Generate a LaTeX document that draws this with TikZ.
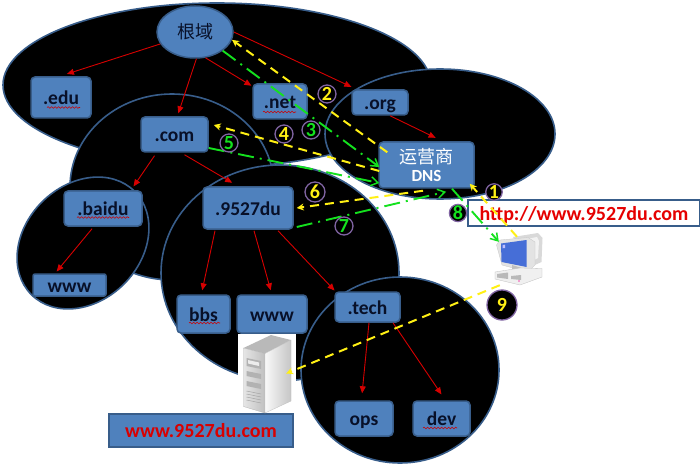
\documentclass[tikz,border=0pt]{standalone}
\usepackage{fontspec}
\setmainfont{Carlito}
\newfontfamily\cjk{Noto Sans CJK SC}
\usetikzlibrary{arrows.meta,shapes.geometric,decorations.pathmorphing}
\definecolor{bluefill}{RGB}{79,129,189}
\definecolor{blueline}{RGB}{56,93,138}
\definecolor{darktxt}{RGB}{8,16,40}
\definecolor{redline}{RGB}{215,0,0}
\definecolor{greenline}{RGB}{20,225,30}
\definecolor{yellowline}{RGB}{255,240,20}
\definecolor{purp}{RGB}{128,100,162}
\definecolor{screenblue}{RGB}{70,110,215}
\tikzset{
  zone/.style={draw=blueline,line width=1.6pt,fill=black,shape=ellipse,inner sep=0pt},
  box/.style={draw=blueline,line width=1.5pt,fill=bluefill,rounded corners=4pt,inner sep=0pt,
     text=darktxt,font=\fontsize{19.5}{20}\selectfont\bfseries},
  label/.style={box,text height=16pt,text depth=2pt},
  redarrow/.style={draw=redline,line width=.9pt,-{Triangle[length=7pt,width=6pt]},shorten >=1pt},
  yellowarrow/.style={draw=yellowline,line width=2pt,dash pattern=on 9pt off 6pt,
     -{Stealth[length=7pt,width=7pt]}},
  greenarrow/.style={draw=greenline,line width=1.9pt,dash pattern=on 16pt off 6pt on 2pt off 6pt,
     -{Straight Barb[length=7pt,width=9pt,line width=1.5pt]}},
  badge/.style={shape=circle,draw=purp,line width=1.3pt,fill=black,inner sep=0pt,
     font=\fontsize{20}{20}\selectfont\bfseries},
  squig/.style={draw=red!80!black,line width=.6pt,decorate,
     decoration={snake,segment length=3.5pt,amplitude=.8pt}},
  every node/.append style={align=center}
}
\begin{document}
\begin{tikzpicture}[x=1pt,y=-1pt]
\useasboundingbox (0,0) rectangle (700,470);
\fill[white] (0,0) rectangle (700,470);
% zones
\node[zone,minimum width=428pt,minimum height=164pt] (zroot) at (217,85) {};
\node[zone,minimum width=204pt,minimum height=186pt] (zcom) at (172,187) {};
\node[zone,minimum width=230pt,minimum height=130pt] (zorg) at (440,134) {};
\node[zone,minimum width=238pt,minimum height=216pt] (zdu) at (280,273) {};
\node[zone,minimum width=146pt,minimum height=116pt,rotate=45] (zbaidu) at (83,243) {};
\node[zone,minimum width=198pt,minimum height=186pt] (ztech) at (400,370) {};
% nodes
\node[box,shape=ellipse,minimum width=76pt,minimum height=52pt,font=\fontsize{18}{18}\selectfont\cjk] (root) at (195,32) {根域};
\node[label,minimum width=60pt,minimum height=41pt] (edu) at (61,97.5) {.edu};
\node[label,minimum width=67pt,minimum height=35pt] (com) at (174.5,134.5) {.com};
\node[label,minimum width=54pt,minimum height=35pt] (net) at (280,101.5) {.net};
\node[label,minimum width=56pt,minimum height=25pt] (org) at (380,102.5) {.org};
\node[box,minimum width=95pt,minimum height=46pt,text=white] (dns) at (426.5,165)
  {{\fontsize{18}{20}\selectfont\mdseries\cjk 运营商}\\[-2pt]{\fontsize{17}{18}\selectfont\bfseries DNS}};
\node[label,minimum width=90pt,minimum height=42pt] (du) at (248,208) {.9527du};
\node[label,minimum width=78pt,minimum height=35pt] (baidu) at (103,208.5) {.baidu};
\node[label,minimum width=73pt,minimum height=22pt,rounded corners=2pt] (wwwa) at (69.5,285) {www};
\node[label,minimum width=53pt,minimum height=38pt] (bbs) at (203.5,314) {bbs};
\node[label,minimum width=70pt,minimum height=38pt] (wwwb) at (272,314) {www};
\node[label,minimum width=65pt,minimum height=30pt] (tech) at (367.5,307) {.tech};
\node[label,minimum width=58pt,minimum height=35pt] (ops) at (364,418.5) {ops};
\node[label,minimum width=57pt,minimum height=35pt] (dev) at (441.5,418.5) {dev};
\node[label,rounded corners=0pt,minimum width=184pt,minimum height=33pt,text=red!85!black,font=\fontsize{20}{20}\selectfont\bfseries] (site) at (201,430.5) {www.9527du.com};
\node[label,rounded corners=0pt,fill=white,minimum width=232pt,minimum height=26pt,text=red!90!black,font=\fontsize{20}{20}\selectfont\bfseries] (url) at (584,213) {http://www.9527du.com};
% spell-check underlines
\draw[squig] (47,107.5) -- (80,107.5);
\draw[squig] (263,112) -- (296,112);
\draw[squig] (77,217.5) -- (129,217.5);
\draw[squig] (189,323) -- (220,323);
\draw[squig] (423,428) -- (457,428);
% server icon
\node[fill=white,inner sep=0pt,minimum width=58pt,minimum height=79pt] (srv) at (267,373.5) {};
\fill[gray!55] (243.5,348) -- (271,335) -- (291,340) -- (265,353.5) -- cycle;
\shade[left color=gray!20,right color=gray!50,draw=gray!60,line width=.3pt] (243.5,348) -- (265,353.5) -- (265,413) -- (243.5,406.5) -- cycle;
\shade[left color=white!95!gray,right color=gray!45,draw=gray!50,line width=.3pt] (265,353.5) -- (291,340) -- (291,401) -- (265,413) -- cycle;
\fill[gray!60] (246.5,358) -- (261,361) -- (261,369) -- (246.5,366) -- cycle;
\fill[white!85!gray] (248,360) -- (259,362.5) -- (259,366) -- (248,363.5) -- cycle;
\fill[gray!60] (246.5,371) -- (261,374) -- (261,379) -- (246.5,376) -- cycle;
\fill[gray!60] (246.5,381) -- (261,384) -- (261,389) -- (246.5,386) -- cycle;
\foreach \yy in {391,394,397,400} \draw[gray!70,line width=.5pt] (246.5,\yy) -- (261,\yy+3);
% computer icon
\node[inner sep=0pt,minimum width=50pt,minimum height=56pt] (pc) at (518,260) {};
\fill[gray!30] (513,237) -- (538,233) -- (542.5,238) -- (541.5,262) -- (528,268) -- cycle;
\fill[gray!10] (516.5,241) -- (537,237) -- (539,241) -- (538,258) -- (530,262) -- cycle;
\fill[gray!22,draw=gray!45,line width=.3pt] (496.5,245) -- (500,240) -- (528,237.5) -- (535,242) -- (535,265) -- (528,272) -- (502,265) -- cycle;
\fill[screenblue] (501,243.5) -- (526.5,240) -- (526.5,267) -- (501.5,262) -- cycle;
\fill[white!75!blue] (502.5,245) -- (505,244.7) -- (505,248) -- (502.5,248.3) -- cycle;
\fill[gray!50] (512,265) -- (528,270) -- (528,274) -- (512,270) -- cycle;
\fill[gray!12,draw=gray!50,line width=.3pt] (495,272) -- (520,268) -- (542,268.5) -- (542,277) -- (520,285) -- (495,279) -- cycle;
\fill[gray!55] (497,274) -- (508,272.5) -- (508,279) -- (497,277.5) -- cycle;
\fill[gray!55] (511,276) -- (521,275) -- (521,280) -- (511,279) -- cycle;
\fill[magenta!70] (519,281) circle (.8pt);
% tree connectors
\draw[redarrow] (root.199) -- ([shift={(5,-2)}]edu.north);
\draw[redarrow] (root.-87) -- ([shift={(3.5,-2)}]com.north);
\draw[redarrow] (root.-68) -- ([shift={(0,3)}]net.north west);
\draw[redarrow] (root.0) -- ([shift={(1,-2)}]org.north west);
\draw[redarrow] ([shift={(10,0)}]org.south) -- ([shift={(10,-3)}]dns.north);
\draw[redarrow] ([shift={(-20,3)}]com.south) -- ([shift={(30,-3)}]baidu.north);
\draw[redarrow] ([shift={(10,2)}]com.south) -- ([shift={(-15,-3)}]du.north);
\draw[redarrow] ([shift={(-11,2)}]baidu.south) -- ([shift={(-13.5,-1)}]wwwa.north);
\draw[redarrow] ([shift={(-33,1)}]du.south) -- ([shift={(-1.5,-3)}]bbs.north);
\draw[redarrow] ([shift={(6,1)}]du.south) -- ([shift={(-1,-3)}]wwwb.north);
\draw[redarrow] ([shift={(30,1)}]du.south) -- ([shift={(1,0)}]tech.north west);
\draw[redarrow] ([shift={(1.5,0)}]tech.south) -- ([shift={(-2,-6)}]ops.north);
\draw[redarrow] ([shift={(25.5,0)}]tech.south) -- ([shift={(0.5,-5)}]dev.north);
% query connectors
\draw[yellowarrow] ([shift={(-1,5)}]pc.north) -- ([shift={(-5,-5)}]dns.south east);
\draw[yellowarrow] ([shift={(9,11)}]dns.north west) -- (root.-12);
\draw[greenarrow] (root.-34) -- ([shift={(1,2)}]dns.west);
\draw[yellowarrow] ([shift={(1,6)}]dns.west) -- ([shift={(5,-9.5)}]com.east);
\draw[greenarrow] ([shift={(0,13.5)}]com.east) -- ([shift={(1,18)}]dns.west);
\draw[yellowarrow] ([shift={(-3.5,2)}]dns.south) -- ([shift={(3,0)}]du.east);
\draw[greenarrow] ([shift={(3,19)}]du.east) -- ([shift={(19.5,3)}]dns.south);
\draw[greenarrow] ([shift={(25.5,0)}]dns.south) -- ([shift={(6,10)}]pc.north west);
\draw[yellowarrow] ([shift={(7,-3)}]pc.south west) -- ([shift={(-10,0)}]srv.east);
% badges
\node[badge,minimum size=15pt,text=yellowline] (n1) at (494,192) {1};
\node[badge,minimum size=18pt,text=yellowline] (n2) at (327,94) {2};
\node[badge,minimum size=18pt,text=greenline] (n3) at (311,130) {3};
\node[badge,minimum size=18pt,text=yellowline] (n4) at (284,134) {4};
\node[badge,minimum size=18pt,text=greenline] (n5) at (229,143) {5};
\node[badge,minimum size=20pt,text=yellowline] (n6) at (315,192) {6};
\node[badge,minimum size=18pt,text=greenline] (n7) at (344,226) {7};
\node[badge,minimum size=16pt,text=greenline] (n8) at (458,213) {8};
\node[badge,minimum size=30pt,text=yellowline] (n9) at (502,305) {9};
\end{tikzpicture}
\end{document}
